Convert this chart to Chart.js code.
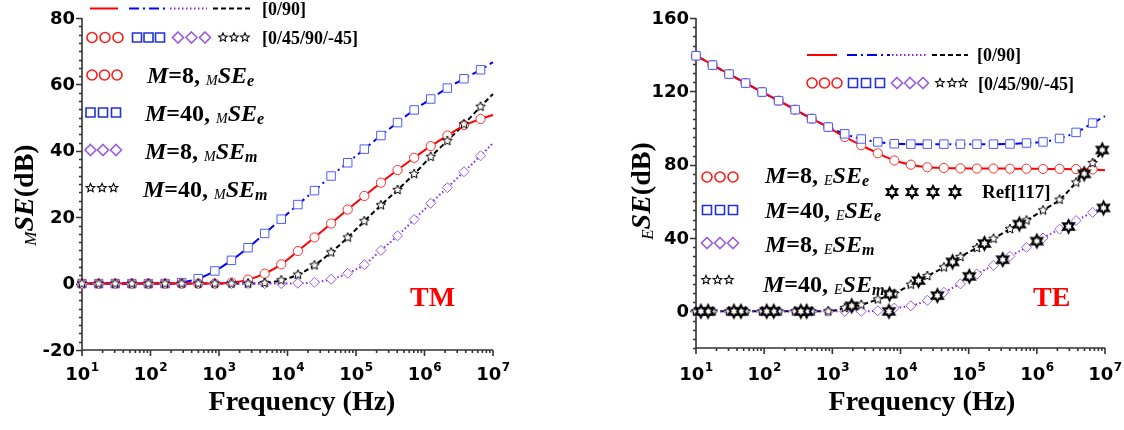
<!DOCTYPE html>
<html>
<head>
<meta charset="utf-8">
<script src="https://cdn.jsdelivr.net/npm/chart.js@4.4.1/dist/chart.umd.min.js"></script>
<style>
  html, body { margin: 0; padding: 0; background: #fff; }
  #wrap { position: relative; width: 1124px; height: 430px; overflow: hidden; }
  canvas { position: absolute; top: 0; }
  #tm { left: 0; }
  #te { left: 560px; }
</style>
</head>
<body>
<div id="wrap">
  <canvas id="tm" width="560" height="430"></canvas>
  <canvas id="te" width="564" height="430"></canvas>
</div>
<script>
// Frequencies (Hz) of the marker points
const freqHz = [10, 17.48, 30.54, 53.37, 93.26, 163.0, 284.8, 497.7, 869.8, 1520, 2656, 4642, 8111,
  14175, 24771, 43288, 75646, 132194, 231013, 403702, 705480, 1232847, 2154435, 3764936, 6579332];
// Frequencies (Hz) of the line curves (run to 1e7 Hz)
const lineHz = [10, 17.48, 30.54, 53.37, 93.26, 163.0, 284.8, 497.7, 869.8, 1520, 2656, 4642, 8111,
  14175, 24771, 43288, 75646, 132194, 231013, 403702, 705480, 1232847, 2154435, 3764936, 6579332, 10000000];

// Tick labels
const xTickExp = [1, 2, 3, 4, 5, 6, 7];
const tmYTicks = [-20, 0, 20, 40, 60, 80];
const teYTicks = [0, 40, 80, 120, 160];

// ---- TM : magnetic shielding (dB) ----
// [0/90] lines
const tmLineSEe8  = [0,0,0,0,0,0,0,0,0,0.3,1.2,3.0,5.8,9.8,13.9,18.1,22.3,26.4,30.4,34.2,37.9,41.4,44.6,47.6,49.6,50.8];
const tmLineSEe40 = [0,0,0,0,0,0,0.3,1.5,3.8,7.0,10.8,15.1,19.4,23.8,28.0,32.4,36.4,40.5,44.6,48.5,52.3,55.6,58.9,61.7,64.4,66.7];
const tmLineSEm8  = [0,0,0,0,0,0,0,0,0,0,0,0,0,0.1,0.4,1.3,3.1,5.7,10.0,14.4,19.3,24.2,28.9,33.7,38.5,42.3];
const tmLineSEm40 = [0,0,0,0,0,0,0,0,0,0,0,0.2,1.0,2.7,5.5,9.4,13.9,18.8,23.6,28.2,33.0,38.2,43.0,48.0,53.3,57.1];
// [0/45/90/-45] markers
const tmSEe8  = [0,0,0,0,0,0,0,0,0,0.3,1.2,3.0,5.8,9.8,13.9,18.1,22.3,26.4,30.4,34.2,37.9,41.4,44.6,47.8,49.6];
const tmSEe40 = [0,0,0,0,0,0,0.3,1.5,3.8,7.0,10.8,15.1,19.4,23.8,28.0,32.4,36.4,40.5,44.6,48.5,52.3,55.6,58.9,61.7,64.4];
const tmSEm8  = [0,0,0,0,0,0,0,0,0,0,0,0,0,0.1,0.4,1.3,3.1,5.7,10.0,14.4,19.3,24.2,28.9,33.7,38.5];
const tmSEm40 = [0,0,0,0,0,0,0,0,0,0,0,0.2,1.0,2.7,5.5,9.4,13.9,18.8,23.6,28.2,33.0,38.2,43.0,48.0,53.3];

// ---- TE : electric shielding (dB) ----
const teLineSEe8  = [139.6,134.4,129.4,124.5,119.6,114.9,110.0,105.1,100.4,95.1,90.6,86.2,82.3,80.0,78.6,78.2,78.0,77.9,77.9,77.8,77.8,77.7,77.6,77.5,77.3,77.0];
const teLineSEe40 = [139.6,134.4,129.4,124.5,119.6,114.9,110.0,105.1,100.5,96.8,94.0,92.4,91.4,91.2,91.2,91.2,91.2,91.2,91.2,91.3,91.8,92.4,94.3,97.6,102.7,106.5];
const teLineSEm8  = [0,0,0,0,0,0,0,0,0,0,0,0.3,1.8,3.0,6.0,10.4,15.0,20.3,25.1,30.0,34.9,40.0,44.8,49.5,54.0,57.5];
const teLineSEm40 = [0,0,0,0,0,0,0,0,0,1.8,3.6,6.5,9.6,14.6,19.3,24.0,29.7,34.6,39.6,44.9,49.6,55.1,60.9,70.3,80.9,89.0];
const teSEe8  = [139.4,134.3,129.4,124.5,119.6,114.9,110.0,105.1,100.5,95.1,90.6,86.2,82.3,80.0,78.6,78.2,78.0,77.9,77.9,77.8,77.8,77.7,77.7,77.6,77.4];
const teSEe40 = [139.4,134.3,129.4,124.5,119.6,114.9,110.0,105.1,100.5,96.8,94.0,92.4,91.4,91.2,91.2,91.2,91.2,91.2,91.2,91.3,91.8,92.4,94.3,97.6,102.7];
const teSEm8  = [0,0,0,0,0,0,0,0,0,0,0,0.3,1.8,3.0,6.0,10.4,15.0,20.3,25.1,30.0,34.9,40.0,44.8,49.5,54.0];
const teSEm40 = [0,0,0,0,0,0,0,0,0,1.8,3.6,6.5,9.6,14.6,19.3,24.0,29.7,34.6,39.6,44.9,49.6,55.1,60.9,70.3,80.9];
// Ref[117]
const refM40Hz = [11.8, 36, 109, 345, 1920, 6900, 18400, 58000, 170000, 554000, 4950000, 9100000];
const refM40Db = [0, 0, 0, 0, 3.0, 9.4, 16.8, 27.0, 37.0, 47.6, 75.0, 88.0];
const refM8Hz  = [15, 45.6, 138, 420, 6760, 34700, 102000, 316000, 1000000, 2920000, 9500000];
const refM8Db  = [0, 0, 0, 0, 0, 8.6, 19.1, 28.2, 38.3, 46.3, 56.4];

// ---- styles ----
const SERIF = '"Liberation Serif", "Times New Roman", serif';
const SANS = '"DejaVu Sans", sans-serif';
const C_RED = '#ff0000', C_BLUE = '#0000ff', C_VIO = '#8a22f0', C_BLK = '#000000';
const M_RED = '#ff2b2b', M_BLUE = '#4a5cff', M_VIO = '#9a5de2';
const DASH_BLUE = [10, 4, 2, 4], DASH_VIO = [1.5, 2.5], DASH_BLK = [5, 3];

function starPath(g, x, y, n, ro, ri) {
  g.beginPath();
  for (let i = 0; i < 2 * n; i++) {
    const r = i % 2 ? ri : ro;
    const a = -Math.PI / 2 + i * Math.PI / n;
    const px = x + r * Math.cos(a), py = y + r * Math.sin(a);
    if (i) g.lineTo(px, py); else g.moveTo(px, py);
  }
  g.closePath();
}
function starGlyph(n, ro, ri, lw) {
  const s = Math.ceil(2 * ro + 2 * lw + 2);
  const c = document.createElement('canvas');
  c.width = s; c.height = s;
  const g = c.getContext('2d');
  starPath(g, s / 2, s / 2, n, ro, ri);
  g.fillStyle = '#fff'; g.fill();
  g.lineWidth = lw; g.strokeStyle = '#000'; g.stroke();
  return c;
}
const smallStar = starGlyph(5, 5, 2.3, 1);
const refStar = starGlyph(6, 6.2, 3.3, 2.1);

function pts(xs, ys) { return ys.map((v, i) => ({ x: xs[i], y: v })); }
function lineDs(ys, color, dash, w) {
  return { data: pts(lineHz, ys), borderColor: color, borderWidth: w, borderDash: dash,
    pointRadius: 0, cubicInterpolationMode: 'monotone', fill: false, order: 20, clip: false };
}
function markDs(xs, ys, style, r, color, ord) {
  return { data: pts(xs, ys), showLine: false, pointStyle: style, pointRadius: r,
    pointBorderColor: color, pointBackgroundColor: '#fff', pointBorderWidth: 1,
    order: ord, clip: false };
}

// legend / annotation helpers
function rich(g, x, y, parts) {
  let cx = x;
  for (const [t, f, dy] of parts) {
    g.font = f; g.fillText(t, cx, y + (dy || 0));
    cx += g.measureText(t).width;
  }
  return cx - x;
}
function richWidth(g, parts) {
  let w = 0;
  for (const [t, f] of parts) { g.font = f; w += g.measureText(t).width; }
  return w;
}
function mark(g, kind, x, y, s, color) {
  g.save();
  g.strokeStyle = color || '#000'; g.fillStyle = '#fff'; g.lineWidth = 1.6;
  if (kind === 'circle') { g.beginPath(); g.arc(x, y, s / 2, 0, Math.PI * 2); }
  else if (kind === 'square') { g.beginPath(); g.rect(x - s / 2, y - s / 2, s, s); }
  else if (kind === 'diamond') {
    g.beginPath();
    g.moveTo(x, y - s / 2); g.lineTo(x + s / 2, y); g.lineTo(x, y + s / 2); g.lineTo(x - s / 2, y); g.closePath();
  } else if (kind === 'star') { starPath(g, x, y, 5, s / 2, s * 0.23); g.lineWidth = 1.1; }
  else if (kind === 'ref') { starPath(g, x, y, 6, s / 2, s * 0.27); g.lineWidth = 2; }
  g.fill(); g.stroke();
  g.restore();
}
function seg(g, x1, x2, y, color, dash, w) {
  g.save(); g.strokeStyle = color; g.lineWidth = w; g.setLineDash(dash);
  g.beginPath(); g.moveTo(x1, y); g.lineTo(x2, y); g.stroke(); g.restore();
}
function seLabel(mode, m, sub) {
  return [
    ['M', 'italic bold 24px ' + SERIF],
    ['=' + m + ', ', 'bold 24px ' + SERIF],
    [mode, 'italic 14px ' + SERIF, 2],
    ['SE', 'italic bold 24px ' + SERIF],
    [sub, 'italic bold 16px ' + SERIF, 3]
  ];
}

// axes, ticks, titles and the in-plot legend
function frame(cfg) {
  return {
    id: 'frame',
    beforeDatasetsDraw(chart) {
      const { ctx: g, chartArea: a, scales: { x, y } } = chart;
      g.save();
      g.strokeStyle = '#333'; g.lineWidth = 1.6;
      g.beginPath();
      g.moveTo(a.left, y.getPixelForValue(cfg.yMax));
      g.lineTo(a.left, a.bottom);
      g.lineTo(x.getPixelForValue(1e7), a.bottom);
      for (const e of xTickExp) {
        const p = x.getPixelForValue(Math.pow(10, e));
        g.moveTo(p, a.bottom); g.lineTo(p, a.bottom + 6);
        if (e < 7) for (let m = 2; m < 10; m++) {
          const q = x.getPixelForValue(m * Math.pow(10, e));
          g.moveTo(q, a.bottom); g.lineTo(q, a.bottom + 3);
        }
      }
      for (let v = cfg.yMin; v <= cfg.yMax + 1e-6; v += cfg.yMinor) {
        const p = Math.round(y.getPixelForValue(v)) + 0.5;
        const major = cfg.yMajor.includes(Math.round(v * 10) / 10);
        g.moveTo(a.left, p); g.lineTo(a.left - (major ? 6 : 3), p);
      }
      g.stroke();
      g.restore();
    },
    afterDraw(chart) {
      const { ctx: g, chartArea: a, scales: { x, y } } = chart;
      g.save();
      g.fillStyle = '#000';
      // y tick labels
      g.font = 'bold 18px ' + SANS; g.textAlign = 'right'; g.textBaseline = 'middle';
      for (const v of cfg.yLabels) g.fillText(String(v), a.left - 7, y.getPixelForValue(v) + 1);
      // x tick labels 10^n
      g.textAlign = 'left'; g.textBaseline = 'alphabetic';
      for (const e of xTickExp) {
        const p = x.getPixelForValue(Math.pow(10, e));
        g.font = 'bold 18px ' + SANS; const w1 = g.measureText('10').width;
        g.font = 'bold 12px ' + SANS; const w2 = g.measureText(String(e)).width;
        const x0 = p - (w1 + w2) / 2;
        g.font = 'bold 18px ' + SANS; g.fillText('10', x0, 380);
        g.font = 'bold 12px ' + SANS; g.fillText(String(e), x0 + w1 + 0.5, 371);
      }
      // page coordinates from here on
      g.translate(-cfg.offsetX, 0);
      g.font = 'bold 28px ' + SERIF; g.textAlign = 'center';
      g.fillText('Frequency (Hz)', cfg.xTitleX, 410);
      g.textAlign = 'left';
      // y title
      const yt = [
        [cfg.mode, 'italic 17px ' + SERIF, 3],
        ['SE', 'italic bold 28px ' + SERIF],
        ['(dB)', 'bold 28px ' + SERIF]
      ];
      g.save();
      g.translate(cfg.yTitleX, cfg.yTitleY);
      g.rotate(-Math.PI / 2);
      rich(g, -richWidth(g, yt) / 2, 0, yt);
      g.restore();
      // legend
      cfg.legend(g);
      // mode label
      g.fillStyle = '#ff0000'; g.font = 'bold 28px ' + SERIF;
      g.fillText(cfg.modeText, cfg.modeX, 306);
      g.restore();
    }
  };
}

function baseOptions(pad, yMin, yMax) {
  return {
    responsive: false, animation: false, events: [],
    layout: { padding: pad },
    scales: {
      x: { type: 'logarithmic', min: 10, max: 1e7, display: false },
      y: { type: 'linear', min: yMin, max: yMax, display: false }
    },
    plugins: { legend: { display: false }, tooltip: { enabled: false } }
  };
}

// ---------- TM ----------
new Chart(document.getElementById('tm'), {
  type: 'line',
  data: {
    datasets: [
      lineDs(tmLineSEe8, C_RED, [], 2),
      lineDs(tmLineSEe40, C_BLUE, DASH_BLUE, 2),
      lineDs(tmLineSEm8, C_VIO, DASH_VIO, 2),
      lineDs(tmLineSEm40, C_BLK, DASH_BLK, 2),
      markDs(freqHz, tmSEe40, 'rect', 6, M_BLUE, 4),
      markDs(freqHz, tmSEe8, 'circle', 4.6, M_RED, 3),
      markDs(freqHz, tmSEm8, 'rectRot', 5, M_VIO, 2),
      markDs(freqHz, tmSEm40, smallStar, 5, C_BLK, 1)
    ]
  },
  options: baseOptions({ left: 82, right: 67, top: 18, bottom: 80 }, -20, 80),
  plugins: [frame({
    offsetX: 0, yMin: -20, yMax: 80, yMinor: 2.5, yMajor: tmYTicks, yLabels: tmYTicks,
    mode: 'M', xTitleX: 302, yTitleX: 33, yTitleY: 195, modeText: 'TM', modeX: 410,
    legend(g) {
      seg(g, 90, 118, 8.5, C_RED, [], 2);
      seg(g, 129, 168, 8.5, C_BLUE, DASH_BLUE, 2);
      seg(g, 170, 207, 8.5, C_VIO, DASH_VIO, 2);
      seg(g, 213, 253, 8.5, C_BLK, DASH_BLK, 2);
      g.fillStyle = '#000'; g.font = 'bold 18px ' + SERIF;
      g.fillText('[0/90]', 262, 15);
      [92, 105, 118].forEach(px => mark(g, 'circle', px, 37.5, 10, '#ff1a1a'));
      [137, 148.5, 160].forEach(px => mark(g, 'square', px, 37.5, 9, '#2231d6'));
      [178, 191.5, 205].forEach(px => mark(g, 'diamond', px, 37.5, 11, M_VIO));
      [223, 234, 245].forEach(px => mark(g, 'star', px, 37.5, 9));
      g.fillStyle = '#000'; g.font = 'bold 18px ' + SERIF;
      g.fillText('[0/45/90/-45]', 262, 44);
      [92, 104.5, 117].forEach(px => mark(g, 'circle', px, 75, 10, '#ff1a1a'));
      [90.5, 103, 116].forEach(px => mark(g, 'square', px, 112.5, 9, '#2231d6'));
      [90.5, 103, 116].forEach(px => mark(g, 'diamond', px, 150, 11, M_VIO));
      [90.5, 102, 113.5].forEach(px => mark(g, 'star', px, 188, 9));
      g.fillStyle = '#000';
      rich(g, 147, 83, seLabel('M', '8', 'e'));
      rich(g, 145, 121, seLabel('M', '40', 'e'));
      rich(g, 145, 159, seLabel('M', '8', 'm'));
      rich(g, 143, 197, seLabel('M', '40', 'm'));
    }
  })]
});

// ---------- TE ----------
new Chart(document.getElementById('te'), {
  type: 'line',
  data: {
    datasets: [
      lineDs(teLineSEe8, C_RED, [], 2),
      lineDs(teLineSEe40, C_BLUE, DASH_BLUE, 2),
      lineDs(teLineSEm8, C_VIO, DASH_VIO, 2),
      lineDs(teLineSEm40, C_BLK, DASH_BLK, 2),
      markDs(freqHz, teSEe8, 'circle', 4.6, M_RED, 4),
      markDs(freqHz, teSEe40, 'rect', 6, M_BLUE, 3),
      markDs(freqHz, teSEm8, 'rectRot', 5, M_VIO, 2),
      markDs(freqHz, teSEm40, smallStar, 5, C_BLK, 1),
      markDs(refM40Hz, refM40Db, refStar, 6, C_BLK, 0),
      markDs(refM8Hz, refM8Db, refStar, 6, C_BLK, 0)
    ]
  },
  options: baseOptions({ left: 136, right: 19, top: 18, bottom: 82 }, -20, 160),
  plugins: [frame({
    offsetX: 560, yMin: -20, yMax: 160, yMinor: 5, yMajor: teYTicks, yLabels: teYTicks,
    mode: 'E', xTitleX: 922, yTitleX: 650, yTitleY: 191, modeText: 'TE', modeX: 1033,
    legend(g) {
      seg(g, 807, 837, 55, C_RED, [], 2);
      seg(g, 847, 890, 55, C_BLUE, DASH_BLUE, 2);
      seg(g, 892, 927, 55, C_VIO, DASH_VIO, 2);
      seg(g, 932, 968, 55, C_BLK, DASH_BLK, 2);
      g.fillStyle = '#000'; g.font = 'bold 18px ' + SERIF;
      g.fillText('[0/90]', 977, 61);
      [812, 824.5, 837].forEach(px => mark(g, 'circle', px, 83, 10, '#ff1a1a'));
      [853, 866, 880].forEach(px => mark(g, 'square', px, 83, 9, '#2231d6'));
      [897, 910, 923].forEach(px => mark(g, 'diamond', px, 83, 11, M_VIO));
      [940, 952, 963].forEach(px => mark(g, 'star', px, 83, 9));
      g.fillStyle = '#000'; g.font = 'bold 18px ' + SERIF;
      g.fillText('[0/45/90/-45]', 978, 90);
      [707, 720, 733].forEach(px => mark(g, 'circle', px, 177, 10, '#ff1a1a'));
      [707, 720, 733].forEach(px => mark(g, 'square', px, 210, 9, '#2231d6'));
      [707, 720, 733].forEach(px => mark(g, 'diamond', px, 243, 11, M_VIO));
      [706, 717.5, 729].forEach(px => mark(g, 'star', px, 280, 9));
      [892, 912, 933, 955].forEach(px => mark(g, 'ref', px, 192, 12));
      g.fillStyle = '#000'; g.font = 'bold 19px ' + SERIF;
      g.fillText('Ref[117]', 982, 198);
      rich(g, 765, 183, seLabel('E', '8', 'e'));
      rich(g, 765, 218, seLabel('E', '40', 'e'));
      rich(g, 765, 252, seLabel('E', '8', 'm'));
      rich(g, 763, 292, seLabel('E', '40', 'm'));
    }
  })]
});
</script>
</body>
</html>
